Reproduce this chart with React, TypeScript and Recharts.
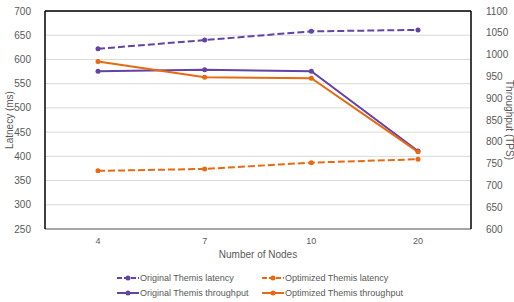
import {
  ComposedChart,
  Line,
  XAxis,
  YAxis,
  CartesianGrid,
  ReferenceLine,
} from "recharts";

const nodes = ["4", "7", "10", "20"];
const originalLatency = [622, 640, 658, 661];
const optimizedLatency = [370, 374, 387, 394];
const originalThroughput = [962, 965, 962, 779];
const optimizedThroughput = [984, 948, 946, 777];

const latencyTicks = [250, 300, 350, 400, 450, 500, 550, 600, 650, 700];
const throughputTicks = [600, 650, 700, 750, 800, 850, 900, 950, 1000, 1050, 1100];

const PURPLE = "#6343a3";
const ORANGE = "#e8690f";
const TEXT = "#595959";
const FONT = "'Liberation Sans', Arial, sans-serif";

const data = nodes.map((n, i) => ({
  nodes: n,
  origLat: originalLatency[i],
  optLat: optimizedLatency[i],
  origTp: originalThroughput[i],
  optTp: optimizedThroughput[i],
}));

const series = [
  { key: "origLat", name: "Original Themis latency", color: PURPLE, dashed: true, axis: "left" },
  { key: "optLat", name: "Optimized Themis latency", color: ORANGE, dashed: true, axis: "left" },
  { key: "origTp", name: "Original Themis throughput", color: PURPLE, dashed: false, axis: "right" },
  { key: "optTp", name: "Optimized Themis throughput", color: ORANGE, dashed: false, axis: "right" },
];

function LegendIcon({ color, dashed }: { color: string; dashed: boolean }) {
  return (
    <svg width={22} height={8} style={{ marginRight: 1 }}>
      <line x1={0} y1={4} x2={22} y2={4} stroke={color} strokeWidth={2} strokeDasharray={dashed ? "5 2" : undefined} />
      <circle cx={11} cy={4} r={2.5} fill={color} />
    </svg>
  );
}

function ChartLegend() {
  const cols = [117, 262];
  return (
    <>
      {series.map((s, i) => (
        <div
          key={s.key}
          style={{
            position: "absolute",
            left: cols[i % 2],
            top: i < 2 ? 271 : 286,
            display: "flex",
            alignItems: "center",
            fontSize: 9,
            color: TEXT,
            fontFamily: FONT,
            whiteSpace: "nowrap",
            height: 14,
          }}
        >
          <LegendIcon color={s.color} dashed={s.dashed} />
          <span>{s.name}</span>
        </div>
      ))}
    </>
  );
}

export default function App() {
  return (
    <div style={{ position: "absolute", left: 0, top: 0, width: 514, height: 302, background: "#fff", fontFamily: FONT }}>
      <ComposedChart width={514} height={302} data={data} margin={{ top: 11, right: 0, bottom: 43, left: 0 }}>
        <CartesianGrid horizontal vertical={false} stroke="#d9d9d9" yAxisId="left" />
        <XAxis
          dataKey="nodes"
          type="category"
          scale="point"
          padding={{ left: 53, right: 53 }}
          axisLine={{ stroke: "#a6a6a6", strokeWidth: 2 }}
          tickLine={false}
          tick={{ fontSize: 9, fill: TEXT, fontFamily: FONT }}
          tickMargin={3}
          height={30}
          label={{ value: "Number of Nodes", position: "insideBottom", offset: 1, fontSize: 10, fill: TEXT, fontFamily: FONT }}
        />
        <YAxis
          yAxisId="left"
          domain={[250, 700]}
          ticks={latencyTicks}
          interval={0}
          width={45}
          axisLine={{ stroke: "#000", strokeWidth: 1.5 }}
          tickLine={false}
          tickMargin={8}
          tick={{ fontSize: 10, fill: TEXT, fontFamily: FONT }}
          label={{ value: "Latnecy (ms)", angle: -90, position: "insideLeft", offset: 9, fontSize: 10, fill: TEXT, fontFamily: FONT, style: { textAnchor: "middle" } }}
        />
        <YAxis
          yAxisId="right"
          orientation="right"
          domain={[600, 1100]}
          ticks={throughputTicks}
          interval={0}
          width={43}
          axisLine={{ stroke: "#000", strokeWidth: 1.5 }}
          tickLine={false}
          tickMargin={9}
          tick={{ fontSize: 10, fill: TEXT, fontFamily: FONT, textAnchor: "start" }}
          label={{ value: "Throughput (TPS)", angle: 90, position: "insideRight", offset: 4, fontSize: 10, fill: TEXT, fontFamily: FONT, style: { textAnchor: "middle" } }}
        />
        <ReferenceLine yAxisId="left" y={700} stroke="#000" strokeWidth={1.5} />
        {series.map((s) => (
          <Line
            key={s.key}
            yAxisId={s.axis}
            dataKey={s.key}
            name={s.name}
            stroke={s.color}
            strokeWidth={2}
            strokeDasharray={s.dashed ? "7 3" : undefined}
            dot={{ r: 2.5, fill: s.color, stroke: s.color, strokeWidth: 0 }}
            activeDot={false}
            isAnimationActive={false}
          />
        ))}
      </ComposedChart>
      <ChartLegend />
    </div>
  );
}
